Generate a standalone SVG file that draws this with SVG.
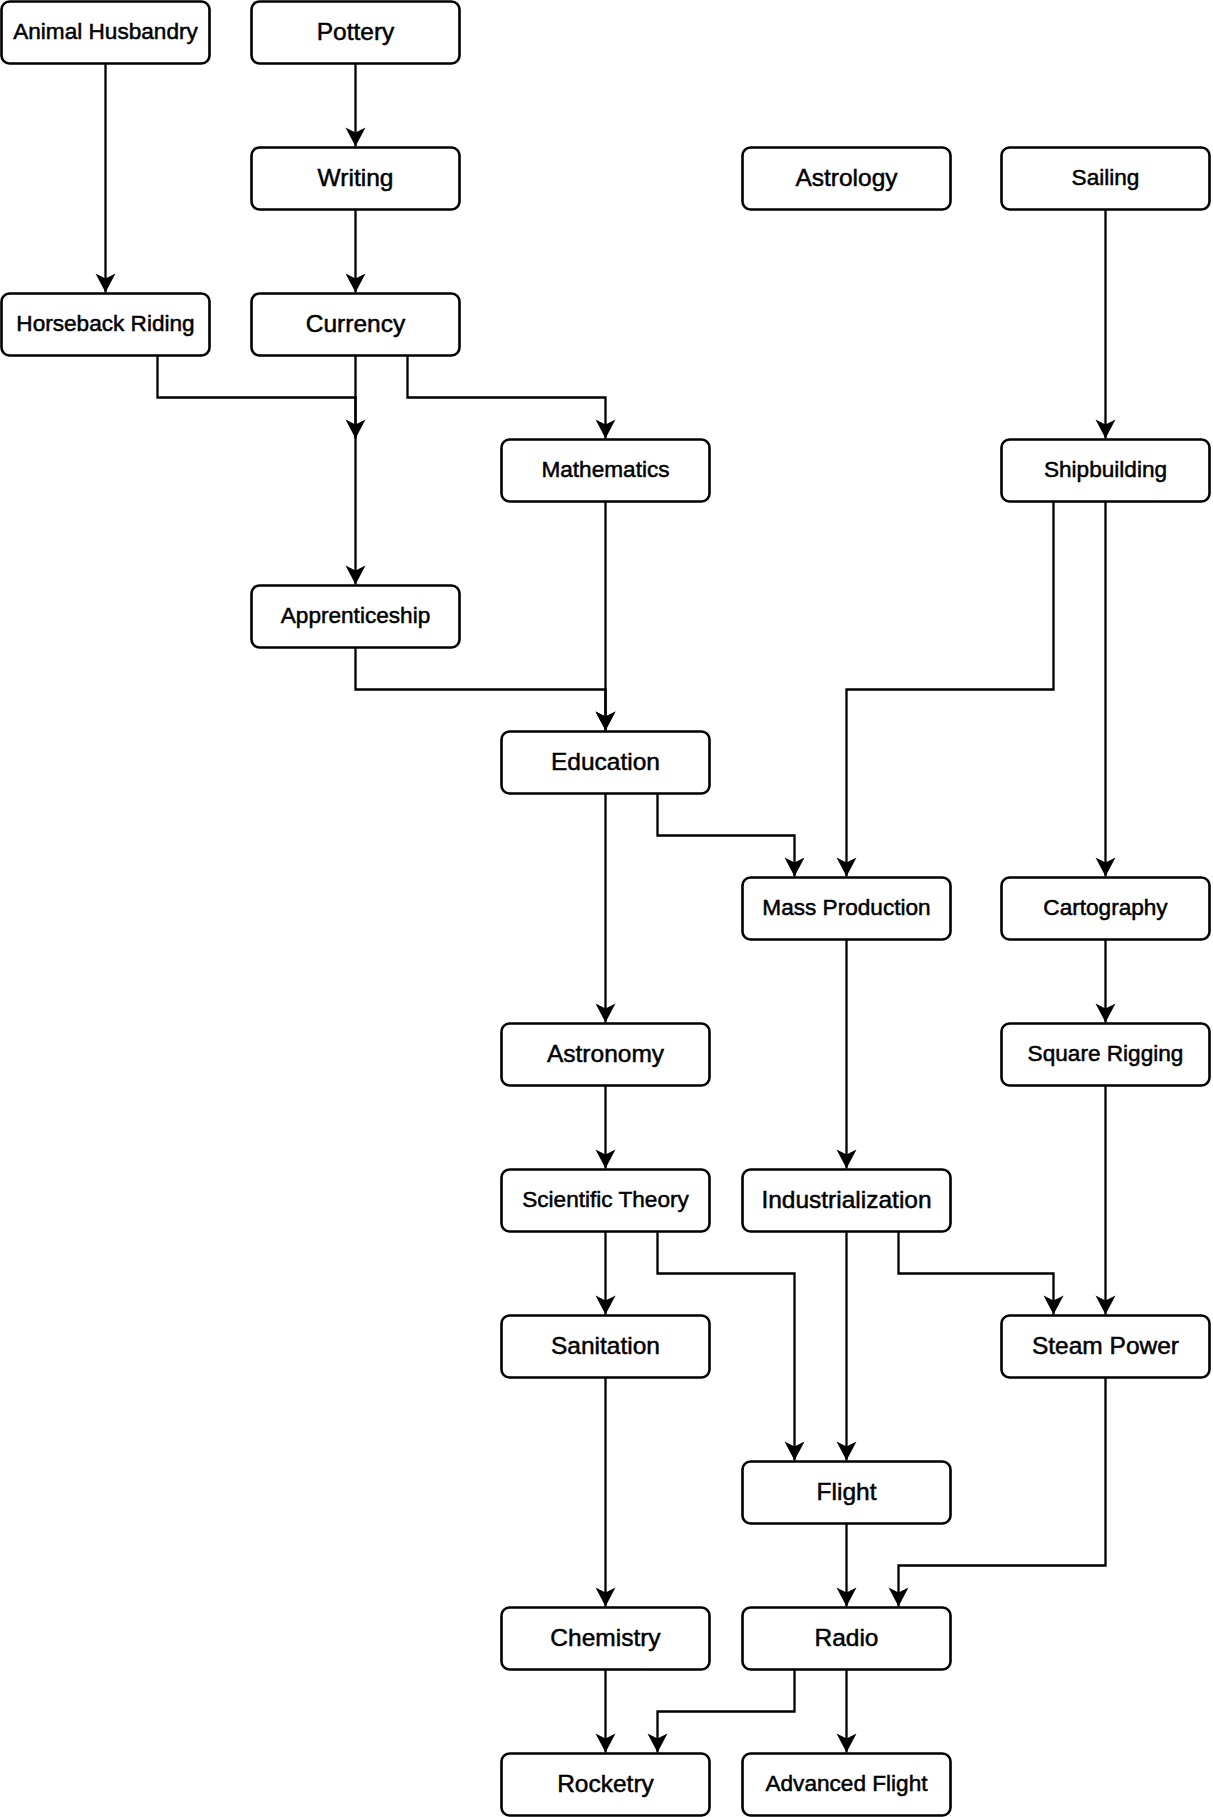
<svg xmlns="http://www.w3.org/2000/svg" width="1213" height="1817" viewBox="0 0 1213 1817">
<defs>
<marker id="arr" viewBox="-20 -11 22 22" refX="0" refY="0" markerWidth="22" markerHeight="22" markerUnits="userSpaceOnUse" orient="auto">
<path d="M0,0 L-19,-10 L-14,0 L-19,10 Z" fill="#000"/>
</marker>
<style>
.n rect{fill:#fff;stroke:#000;stroke-width:2.6}
.n text{font-family:"Liberation Sans",Arial,Helvetica,sans-serif;fill:#000;stroke:#000;stroke-width:0.5;text-anchor:middle}
.s text{font-size:22.6px}
.l text{font-size:24.5px}
#edges path{fill:none;stroke:#000;stroke-width:2.3;marker-end:url(#arr)}
</style>
</defs>
<rect width="1213" height="1817" fill="#fff"/>
<g id="edges">
<path d="M105.5,63.5 V292.5"/>
<path d="M355.5,63.5 V146.5"/>
<path d="M355.5,209.5 V292.5"/>
<path d="M1105.5,209.5 V438.5"/>
<path d="M157.5,355.5 V397.5 H355.5 V438.5"/>
<path d="M355.5,355.5 V584.5"/>
<path d="M407.5,355.5 V397.5 H605.5 V438.5"/>
<path d="M605.5,501.5 V730.5"/>
<path d="M355.5,647.5 V689.5 H605.5 V730.5"/>
<path d="M1053.5,501.5 V689.5 H846.5 V876.5"/>
<path d="M1105.5,501.5 V876.5"/>
<path d="M605.5,793.5 V1022.5"/>
<path d="M657.5,793.5 V835.5 H794.5 V876.5"/>
<path d="M1105.5,939.5 V1022.5"/>
<path d="M846.5,939.5 V1168.5"/>
<path d="M605.5,1085.5 V1168.5"/>
<path d="M1105.5,1085.5 V1314.5"/>
<path d="M605.5,1231.5 V1314.5"/>
<path d="M657.5,1231.5 V1273.5 H794.5 V1460.5"/>
<path d="M846.5,1231.5 V1460.5"/>
<path d="M898.5,1231.5 V1273.5 H1053.5 V1314.5"/>
<path d="M605.5,1377.5 V1606.5"/>
<path d="M846.5,1523.5 V1606.5"/>
<path d="M1105.5,1377.5 V1565.5 H898.5 V1606.5"/>
<path d="M605.5,1669.5 V1752.5"/>
<path d="M794.5,1669.5 V1711.5 H657.5 V1752.5"/>
<path d="M846.5,1669.5 V1752.5"/>
</g>
<g id="animal-husbandry" class="n s"><rect x="1.5" y="1.5" width="208" height="62" rx="8"/><text x="105.5" y="39">Animal Husbandry</text></g>
<g id="pottery" class="n l"><rect x="251.5" y="1.5" width="208" height="62" rx="8"/><text x="355.5" y="39.5">Pottery</text></g>
<g id="writing" class="n l"><rect x="251.5" y="147.5" width="208" height="62" rx="8"/><text x="355.5" y="185.5">Writing</text></g>
<g id="astrology" class="n l"><rect x="742.5" y="147.5" width="208" height="62" rx="8"/><text x="846.5" y="185.5">Astrology</text></g>
<g id="sailing" class="n s"><rect x="1001.5" y="147.5" width="208" height="62" rx="8"/><text x="1105.5" y="185">Sailing</text></g>
<g id="horseback-riding" class="n s"><rect x="1.5" y="293.5" width="208" height="62" rx="8"/><text x="105.5" y="331">Horseback Riding</text></g>
<g id="currency" class="n l"><rect x="251.5" y="293.5" width="208" height="62" rx="8"/><text x="355.5" y="331.5">Currency</text></g>
<g id="mathematics" class="n s"><rect x="501.5" y="439.5" width="208" height="62" rx="8"/><text x="605.5" y="477">Mathematics</text></g>
<g id="shipbuilding" class="n s"><rect x="1001.5" y="439.5" width="208" height="62" rx="8"/><text x="1105.5" y="477">Shipbuilding</text></g>
<g id="apprenticeship" class="n s"><rect x="251.5" y="585.5" width="208" height="62" rx="8"/><text x="355.5" y="623">Apprenticeship</text></g>
<g id="education" class="n l"><rect x="501.5" y="731.5" width="208" height="62" rx="8"/><text x="605.5" y="769.5">Education</text></g>
<g id="mass-production" class="n s"><rect x="742.5" y="877.5" width="208" height="62" rx="8"/><text x="846.5" y="915">Mass Production</text></g>
<g id="cartography" class="n s"><rect x="1001.5" y="877.5" width="208" height="62" rx="8"/><text x="1105.5" y="915">Cartography</text></g>
<g id="astronomy" class="n l"><rect x="501.5" y="1023.5" width="208" height="62" rx="8"/><text x="605.5" y="1061.5">Astronomy</text></g>
<g id="square-rigging" class="n s"><rect x="1001.5" y="1023.5" width="208" height="62" rx="8"/><text x="1105.5" y="1061">Square Rigging</text></g>
<g id="scientific-theory" class="n s"><rect x="501.5" y="1169.5" width="208" height="62" rx="8"/><text x="605.5" y="1207">Scientific Theory</text></g>
<g id="industrialization" class="n l"><rect x="742.5" y="1169.5" width="208" height="62" rx="8"/><text x="846.5" y="1207.5">Industrialization</text></g>
<g id="sanitation" class="n l"><rect x="501.5" y="1315.5" width="208" height="62" rx="8"/><text x="605.5" y="1353.5">Sanitation</text></g>
<g id="steam-power" class="n l"><rect x="1001.5" y="1315.5" width="208" height="62" rx="8"/><text x="1105.5" y="1353.5">Steam Power</text></g>
<g id="flight" class="n l"><rect x="742.5" y="1461.5" width="208" height="62" rx="8"/><text x="846.5" y="1499.5">Flight</text></g>
<g id="chemistry" class="n l"><rect x="501.5" y="1607.5" width="208" height="62" rx="8"/><text x="605.5" y="1645.5">Chemistry</text></g>
<g id="radio" class="n l"><rect x="742.5" y="1607.5" width="208" height="62" rx="8"/><text x="846.5" y="1645.5">Radio</text></g>
<g id="rocketry" class="n l"><rect x="501.5" y="1753.5" width="208" height="62" rx="8"/><text x="605.5" y="1791.5">Rocketry</text></g>
<g id="advanced-flight" class="n s"><rect x="742.5" y="1753.5" width="208" height="62" rx="8"/><text x="846.5" y="1791">Advanced Flight</text></g>
</svg>
